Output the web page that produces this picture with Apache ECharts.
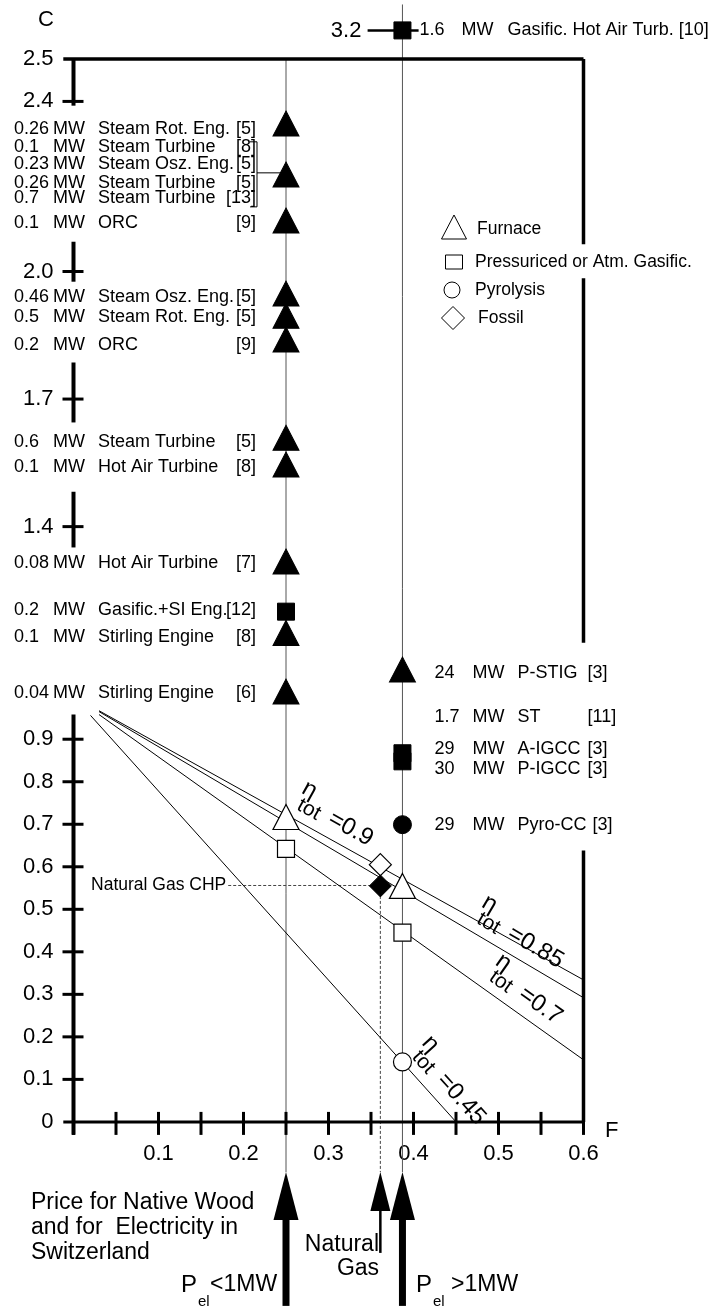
<!DOCTYPE html>
<html>
<head>
<meta charset="utf-8">
<script src="https://cdn.jsdelivr.net/npm/echarts@6/dist/echarts.min.js"></script>
<style>
  html, body { margin: 0; padding: 0; background: #fff; }
  #main { width: 714px; height: 1310px; }
</style>
</head>
<body>
<div id="main"></div>
<script>
const FONT = '"Liberation Sans", Arial, Helvetica, sans-serif';

// F columns (price ratio)
const fSmall = 0.25;   // P_el < 1 MW
const fLarge = 0.387;  // P_el > 1 MW
const fGas = 0.361;    // natural gas

// kinds: F furnace, G gasification, P pyrolysis, D fossil
// plants below 1 MW, filled marks on the fSmall column
const smallC = [2.348, 2.228, 2.12, 1.948, 1.896, 1.84, 1.609, 1.546, 1.318, 1.2, 1.15, 1.012];
const smallKind = ['F', 'F', 'F', 'F', 'F', 'F', 'F', 'F', 'F', 'G', 'F', 'F'];
const smallRowC = [2.334, 2.292, 2.252, 2.209, 2.172, 2.113, 1.941, 1.892, 1.828, 1.6, 1.541, 1.315, 1.205, 1.141, 1.009];
const smallPower = ['0.26', '0.1', '0.23', '0.26', '0.7', '0.1', '0.46', '0.5', '0.2', '0.6', '0.1', '0.08', '0.2', '0.1', '0.04'];
const smallName = ['Steam Rot. Eng.', 'Steam Turbine', 'Steam Osz. Eng.', 'Steam Turbine', 'Steam Turbine', 'ORC',
  'Steam Osz. Eng.', 'Steam Rot. Eng.', 'ORC', 'Steam Turbine', 'Hot Air Turbine', 'Hot Air Turbine',
  'Gasific.+SI Eng.', 'Stirling Engine', 'Stirling Engine'];
const smallRef = ['[5]', '[8]', '[5]', '[5]', '[13]', '[9]', '[5]', '[5]', '[9]', '[5]', '[8]', '[7]', '[12]', '[8]', '[6]'];
// bracket for the group of four plants sharing one mark: top C, bottom C, mark C
const bracketC = [2.305, 2.152, 2.232];

// plants above 1 MW, filled marks on the fLarge column (first one is off scale, C = 3.2)
const largeC = [2.567, 1.064, 0.867, 0.848, 0.699];
const largeKind = ['G', 'F', 'G', 'G', 'P'];
const largeRowC = [1.056, 0.953, 0.878, 0.831, 0.699];
const largePower = ['24', '1.7', '29', '30', '29'];
const largeName = ['P-STIG', 'ST', 'A-IGCC', 'P-IGCC', 'Pyro-CC'];
const largeRef = ['[3]', '[11]', '[3]', '[3]', '[3]'];
const offScale = { label: '3.2', C: 2.567, power: '1.6', name: 'Gasific. Hot Air Turb. [10]' };

// open marks on the efficiency lines
const openF = [0.25, 0.25, 0.387, 0.387, 0.387, 0.361];
const openC = [0.717, 0.642, 0.555, 0.445, 0.141, 0.605];
const openKind = ['F', 'G', 'F', 'G', 'P', 'D'];
const gasCHP = [0.361, 0.555];

// eta_tot lines: start and end points
const etaVal = ['0.9', '0.85', '0.7', '0.45'];
const etaStart = [[0.03, 0.967], [0.03, 0.965], [0.03, 0.958], [0.02, 0.956]];
const etaEnd = [[0.6, 0.334], [0.6, 0.292], [0.6, 0.146], [0.45, 0]];
const etaLabelF = [0.255, 0.466, 0.48, 0.388];

// axes
const xTicks = [0, 0.05, 0.1, 0.15, 0.2, 0.25, 0.3, 0.35, 0.4, 0.45, 0.5, 0.55, 0.6];
const xLabels = [0.1, 0.2, 0.3, 0.4, 0.5, 0.6];
const yTicks = [0.1, 0.2, 0.3, 0.4, 0.5, 0.6, 0.7, 0.8, 0.9, 1.4, 1.7, 2.0, 2.4];
const yLabels = [0, 0.1, 0.2, 0.3, 0.4, 0.5, 0.6, 0.7, 0.8, 0.9, 1.4, 1.7, 2.0, 2.4, 2.5];
const yAxisPieces = [[-0.03, 0.958], [1.351, 1.482], [1.645, 1.786], [1.976, 2.07], [2.39, 2.5]];
const rightBorder = [[2.5, 2.064], [1.984, 1.127], [0.638, 0]];

const kindSymbol = { F: 'triangle', G: 'rect', P: 'circle', D: 'diamond' };
const kindSize = { F: [26, 25], G: [17, 17], P: [18, 18], D: [22, 22] };
const kindName = { F: 'Furnace', G: 'Pressuriced or Atm. Gasific.', P: 'Pyrolysis', D: 'Fossil' };

const filled = { color: '#000', borderColor: '#000', borderWidth: 1, opacity: 1 };
const open = { color: '#fff', borderColor: '#000', borderWidth: 1.2, opacity: 1 };

const measure = document.createElement('canvas').getContext('2d');
measure.font = '18px ' + FONT;

function pointsOf(kind) {
  const out = [];
  smallC.forEach((c, i) => { if (smallKind[i] === kind) out.push({ value: [fSmall, c], itemStyle: filled }); });
  largeC.forEach((c, i) => { if (largeKind[i] === kind) out.push({ value: [fLarge, c], itemStyle: filled }); });
  openC.forEach((c, i) => { if (openKind[i] === kind) out.push({ value: [openF[i], c], itemStyle: open }); });
  if (kind === 'D') out.push({ value: gasCHP, itemStyle: filled });
  return out;
}

function txt(x, y, text, size, align, vAlign) {
  return {
    type: 'text', x: x, y: y,
    style: { text: text, fontSize: size, fontFamily: FONT, fill: '#000', align: align || 'left', verticalAlign: vAlign || 'middle' }
  };
}
function seg(a, b, w, dash) {
  return {
    type: 'line', shape: { x1: a[0], y1: a[1], x2: b[0], y2: b[1] },
    style: { stroke: '#000', lineWidth: w, lineDash: dash || null }
  };
}

const chart = echarts.init(document.getElementById('main'));

const series = [];

// frame, axis pieces and crossing ticks
series.push({
  type: 'custom', coordinateSystem: 'cartesian2d', silent: true, z: 3,
  data: [[0, 0]],
  renderItem: function (params, api) {
    const ch = [];
    ch.push(seg(api.coord([-0.012, 2.5]), api.coord([0.6, 2.5]), 3.5));
    rightBorder.forEach(r => ch.push(seg(api.coord([0.6, r[0]]), api.coord([0.6, r[1]]), 3.5)));
    ch.push(seg(api.coord([-0.012, 0]), api.coord([0.6, 0]), 3));
    yAxisPieces.forEach(r => ch.push(seg(api.coord([0, r[0]]), api.coord([0, r[1]]), 4)));
    xTicks.forEach(v => {
      const p = api.coord([v, 0]);
      ch.push(seg([p[0], p[1] - 10], [p[0], p[1] + 13], 3));
    });
    yTicks.forEach(v => {
      const p = api.coord([0, v]);
      ch.push(seg([p[0] - 11, p[1]], [p[0] + 10, p[1]], 3));
    });
    // off-scale tick for C = 3.2
    ch.push(seg(api.coord([0.346, offScale.C]), api.coord([0.406, offScale.C]), 2.5));
    return { type: 'group', children: ch };
  }
});

// price column guides and natural gas dashed lines
series.push({
  type: 'custom', coordinateSystem: 'cartesian2d', silent: true, z: 1,
  data: [[0, 0]],
  renderItem: function (params, api) {
    const ch = [];
    const s1 = seg(api.coord([fSmall, 2.5]), api.coord([fSmall, -0.118]), 1);
    const s2 = seg(api.coord([fLarge, 2.628]), api.coord([fLarge, -0.118]), 1);
    s1.style.stroke = '#555'; s2.style.stroke = '#555';
    ch.push(s1, s2);
    const d1 = seg(api.coord([0.182, 0.556]), api.coord([fGas, 0.556]), 1, [3, 2]);
    const d2 = seg(api.coord([fGas, 0.555]), api.coord([fGas, -0.118]), 1, [3, 2]);
    d1.style.stroke = '#444'; d2.style.stroke = '#444';
    ch.push(d1, d2);
    const p = api.coord([0.182, 0.556]);
    ch.push(txt(p[0] - 2, p[1], 'Natural Gas CHP', 17.5, 'right'));
    return { type: 'group', children: ch };
  }
});

// eta_tot lines
etaVal.forEach((v, i) => {
  series.push({
    type: 'line', name: 'eta ' + v, silent: true, z: 2, clip: false,
    symbol: 'none', animation: false,
    lineStyle: { color: '#000', width: 1 },
    data: [etaStart[i], etaEnd[i]]
  });
});

// eta_tot labels
series.push({
  type: 'custom', coordinateSystem: 'cartesian2d', silent: true, z: 6,
  data: etaVal.map((v, i) => [etaLabelF[i], i]),
  renderItem: function (params, api) {
    const i = params.dataIndex;
    const a = etaStart[i], b = etaEnd[i];
    const f = etaLabelF[i];
    const c = a[1] + (b[1] - a[1]) * (f - a[0]) / (b[0] - a[0]);
    const p = api.coord([f, c]);
    const pa = api.coord(a), pb = api.coord(b);
    const ang = Math.atan2(pb[1] - pa[1], pb[0] - pa[0]);
    return {
      type: 'group', x: p[0], y: p[1], rotation: -ang,
      children: [
        txt(-3, -21, 'η', 24, 'left', 'bottom'),
        txt(1, -5, 'tot', 21, 'left', 'bottom'),
        txt(35, -7, '=' + etaVal[i], 24, 'left', 'bottom')
      ]
    };
  }
});

// marks by kind
['F', 'G', 'P', 'D'].forEach(k => {
  series.push({
    type: 'scatter', name: kindName[k], z: 5, clip: false, silent: true,
    symbol: kindSymbol[k], symbolSize: kindSize[k],
    itemStyle: { opacity: 1 },
    data: pointsOf(k)
  });
});

// plant labels, small column (left side)
series.push({
  type: 'custom', coordinateSystem: 'cartesian2d', silent: true, z: 6,
  data: smallRowC.map((c, i) => [fSmall, c, i]),
  renderItem: function (params, api) {
    const i = params.dataIndex;
    const p = api.coord([fSmall, smallRowC[i]]);
    return {
      type: 'group', children: [
        txt(p[0] - 272, p[1], smallPower[i], 18),
        txt(p[0] - 233, p[1], 'MW', 18),
        txt(p[0] - 188, p[1], smallName[i], 18),
        txt(p[0] - 30, p[1], smallRef[i], 18, 'right')
      ]
    };
  }
});

// bracket for the grouped plants
series.push({
  type: 'custom', coordinateSystem: 'cartesian2d', silent: true, z: 6,
  data: [[fSmall, bracketC[2]]],
  renderItem: function (params, api) {
    const t = api.coord([fSmall, bracketC[0]]);
    const b = api.coord([fSmall, bracketC[1]]);
    const m = api.coord([fSmall, bracketC[2]]);
    const x = t[0] - 29;
    return {
      type: 'group', children: [
        seg([x, t[1]], [x, b[1]], 1),
        seg([x - 7, t[1]], [x, t[1]], 1),
        seg([x - 7, b[1]], [x, b[1]], 1),
        seg([x, m[1]], [m[0] - 5, m[1]], 1)
      ]
    };
  }
});

// plant labels, large column (right side)
series.push({
  type: 'custom', coordinateSystem: 'cartesian2d', silent: true, z: 6,
  data: largeRowC.map((c, i) => [fLarge, c, i]),
  renderItem: function (params, api) {
    const i = params.dataIndex;
    const p = api.coord([fLarge, largeRowC[i]]);
    const nameEnd = p[0] + 115 + measure.measureText(largeName[i]).width;
    return {
      type: 'group', children: [
        txt(p[0] + 32, p[1], largePower[i], 18),
        txt(p[0] + 70, p[1], 'MW', 18),
        txt(p[0] + 115, p[1], largeName[i], 18),
        txt(Math.max(p[0] + 185, nameEnd + 6), p[1], largeRef[i], 18)
      ]
    };
  }
});

// off-scale plant label
series.push({
  type: 'custom', coordinateSystem: 'cartesian2d', silent: true, z: 6,
  data: [[fLarge, offScale.C]],
  renderItem: function (params, api) {
    const p = api.coord([fLarge, offScale.C]);
    return {
      type: 'group', children: [
        txt(p[0] - 41, p[1] + 1, offScale.label, 22, 'right'),
        txt(p[0] + 17, p[1], offScale.power, 18),
        txt(p[0] + 59, p[1], 'MW', 18),
        txt(p[0] + 105, p[1], offScale.name, 18)
      ]
    };
  }
});

// price arrows under the F axis
const arrowF = [fSmall, fGas, fLarge];
const arrowKind = ['big', 'thin', 'big'];
series.push({
  type: 'custom', coordinateSystem: 'cartesian2d', silent: true, z: 4,
  data: arrowF.map((f, i) => [f, i]),
  renderItem: function (params, api) {
    const i = params.dataIndex;
    const base = api.coord([arrowF[i], 0]);
    const x = base[0];
    const tip = base[1] + 50;
    const big = arrowKind[i] === 'big';
    const hw = big ? 12.5 : 10, hh = big ? 48 : 39, sw = big ? 7 : 2.5, len = big ? 134 : 81;
    return {
      type: 'group', children: [
        { type: 'polygon', shape: { points: [[x, tip], [x - hw, tip + hh], [x + hw, tip + hh]] }, style: { fill: '#000' } },
        { type: 'rect', shape: { x: x - sw / 2, y: tip + hh - 1, width: sw, height: len - hh + 1 }, style: { fill: '#000' } }
      ]
    };
  }
});

const option = {
  animation: false,
  backgroundColor: '#fff',
  textStyle: { fontFamily: FONT, color: '#000' },
  grid: { left: 73.5, right: 130.5, top: 58.9, bottom: 188.1, containLabel: false },
  xAxis: {
    type: 'value', min: 0, max: 0.6, interval: 0.05,
    axisLine: { show: false }, axisTick: { show: false }, splitLine: { show: false },
    axisLabel: {
      interval: 0, margin: 21, fontSize: 22, color: '#000', fontFamily: FONT,
      formatter: v => xLabels.some(t => Math.abs(t - v) < 1e-6) ? v.toFixed(1) : ''
    }
  },
  yAxis: {
    type: 'value', min: 0, max: 2.5, interval: 0.1,
    axisLine: { show: false }, axisTick: { show: false }, splitLine: { show: false },
    axisLabel: {
      interval: 0, margin: 20, fontSize: 22, color: '#000', fontFamily: FONT,
      formatter: v => yLabels.some(t => Math.abs(t - v) < 1e-6) ? (Math.abs(v) < 1e-6 ? '0' : v.toFixed(1)) : ''
    }
  },
  graphic: [
    // axis names
    txt(38, 20, 'C', 22),
    txt(605, 1131, 'F', 22),
    // legend
    { type: 'polygon', shape: { points: [[454, 215], [441.5, 239], [466.5, 239]] }, style: { fill: '#fff', stroke: '#000', lineWidth: 1 } },
    txt(477, 229, 'Furnace', 17.5),
    { type: 'rect', shape: { x: 445.5, y: 255, width: 17, height: 14 }, style: { fill: '#fff', stroke: '#000', lineWidth: 1 } },
    txt(475, 262, 'Pressuriced or Atm. Gasific.', 17.5),
    { type: 'circle', shape: { cx: 452, cy: 290, r: 8 }, style: { fill: '#fff', stroke: '#000', lineWidth: 1 } },
    txt(475, 290, 'Pyrolysis', 17.5),
    { type: 'polygon', shape: { points: [[453, 306.5], [464.5, 318], [453, 329.5], [441.5, 318]] }, style: { fill: '#fff', stroke: '#000', lineWidth: 1 } },
    txt(478, 318, 'Fossil', 17.5),
    // bottom notes
    {
      type: 'text', x: 31, y: 1190,
      style: { text: 'Price for Native Wood\nand for  Electricity in\nSwitzerland', fontSize: 23, lineHeight: 25, fontFamily: FONT, fill: '#000' }
    },
    txt(379, 1245, 'Natural', 23, 'right'),
    txt(358, 1269, 'Gas', 23, 'center'),
    txt(181, 1285, 'P', 24),
    txt(198, 1302, 'el', 15),
    txt(210, 1285, '<1MW', 23),
    txt(416, 1285, 'P', 24),
    txt(433, 1302, 'el', 15),
    txt(451, 1285, '>1MW', 23)
  ],
  series: series
};

chart.setOption(option);
window.addEventListener('resize', () => chart.resize());
</script>
</body>
</html>
